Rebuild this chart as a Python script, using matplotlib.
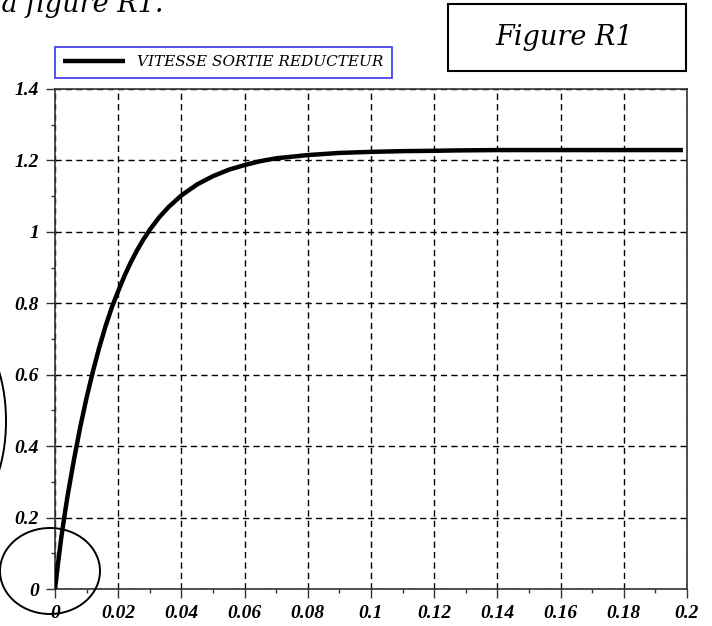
import matplotlib
matplotlib.use("Agg")
import matplotlib.pyplot as plt
from matplotlib.patches import Ellipse, Rectangle
from matplotlib.ticker import MultipleLocator
from matplotlib.font_manager import FontProperties

# ---- data ----
t_vals = [0, 0.001, 0.002, 0.003, 0.004, 0.006, 0.008, 0.010, 0.012, 0.014, 0.016,
          0.018, 0.020, 0.022, 0.024, 0.026, 0.028, 0.030, 0.033, 0.036, 0.040,
          0.045, 0.050, 0.055, 0.060, 0.065, 0.070, 0.080, 0.090, 0.100, 0.110,
          0.120, 0.127, 0.140, 0.160, 0.180, 0.1987]
v_vals = [0, 0.075, 0.145, 0.205, 0.262, 0.362, 0.454, 0.536, 0.609, 0.676, 0.736,
          0.789, 0.834, 0.877, 0.915, 0.949, 0.979, 1.006, 1.041, 1.070, 1.102,
          1.133, 1.156, 1.174, 1.187, 1.198, 1.206, 1.215, 1.221, 1.224, 1.226,
          1.227, 1.228, 1.229, 1.229, 1.229, 1.229]
series_label = "VITESSE SORTIE REDUCTEUR"
x_ticks = [0, 0.02, 0.04, 0.06, 0.08, 0.1, 0.12, 0.14, 0.16, 0.18, 0.2]
x_ticklabels = ["0", "0.02", "0.04", "0.06", "0.08", "0.1", "0.12", "0.14", "0.16", "0.18", "0.2"]
y_ticks = [0, 0.2, 0.4, 0.6, 0.8, 1.0, 1.2, 1.4]
y_ticklabels = ["0", "0.2", "0.4", "0.6", "0.8", "1", "1.2", "1.4"]
title_box_text = "Figure R1"
top_text = "à la figure R1."

W, H = 712, 626
fig = plt.figure(figsize=(W / 100, H / 100), dpi=100)


def fx(x):
    return x / W


def fy(y):
    return 1 - y / H


# axes: pixel box left 55, right 687, top 89, bottom 589
ax = fig.add_axes([fx(55), fy(589), (687 - 55) / W, (589 - 89) / H])
ax.plot(t_vals, v_vals, color="black", lw=3.2, solid_capstyle="butt",
        solid_joinstyle="round", label=series_label, zorder=3)
ax.set_xlim(0, 0.2)
ax.set_ylim(0, 1.4)
ax.set_xticks(x_ticks)
ax.set_xticklabels(x_ticklabels)
ax.set_yticks(y_ticks)
ax.set_yticklabels(y_ticklabels)
ax.xaxis.set_minor_locator(MultipleLocator(0.01))
ax.yaxis.set_minor_locator(MultipleLocator(0.1))
ax.grid(True, which="major", color="black", linestyle=(0, (4.5, 3)), lw=1.0)
ax.tick_params(which="major", direction="out", length=6.5, width=1.0, pad=5,
               color="#333333")
ax.tick_params(which="minor", direction="out", length=3, width=1.0, color="#333333")
tick_fp = FontProperties(family="Liberation Serif", weight="bold", style="italic", size=14)
for lab in ax.get_xticklabels() + ax.get_yticklabels():
    lab.set_fontproperties(tick_fp)
for sp in ax.spines.values():
    sp.set_color("#333333")
    sp.set_linewidth(1.2)

leg = ax.legend(loc="upper left", bbox_to_anchor=(fx(55), fy(47)),
                bbox_transform=fig.transFigure, borderaxespad=0,
                prop=dict(family="DejaVu Serif", style="italic", size=11),
                handlelength=4.0, handletextpad=0.8, borderpad=0.55,
                fancybox=False, framealpha=1, edgecolor="#4444ee")
leg.get_frame().set_linewidth(1.3)
for ln in leg.get_lines():
    ln.set_linewidth(3.2)

# "Figure R1" box
fig.add_artist(Rectangle((fx(448), fy(71)), (686 - 448) / W, (71 - 4) / H,
                         transform=fig.transFigure, fill=False, ec="black", lw=1.5))
fig.text(fx(564), fy(45), title_box_text, ha="center", va="baseline",
         family="DejaVu Serif", style="italic", size=19.5)
fig.text(fx(163), fy(12), top_text, ha="right", va="baseline",
         family="DejaVu Serif", style="italic", size=19.5)

# hand-drawn ellipses
fig.add_artist(Ellipse((fx(50), fy(571)), 100 / W, 86 / H, transform=fig.transFigure,
                       fill=False, ec="black", lw=1.4))
fig.add_artist(Ellipse((fx(-34), fy(421)), 80 / W, 176 / H, transform=fig.transFigure,
                       fill=False, ec="black", lw=1.4))

fig.savefig("out.png", dpi=100)
